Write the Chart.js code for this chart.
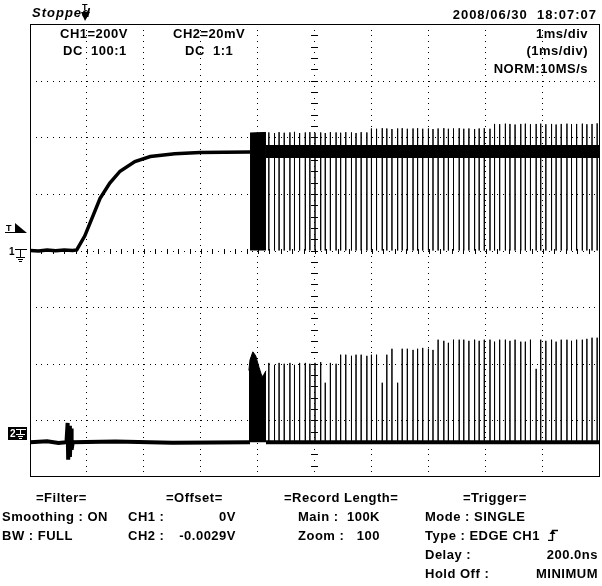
<!DOCTYPE html>
<html>
<head>
<meta charset="utf-8">
<script src="https://cdn.jsdelivr.net/npm/chart.js@4.4.1/dist/chart.umd.min.js"></script>
<style>
  body { margin: 0; background: #fff; }
  #wrap { position: relative; width: 602px; height: 586px; overflow: hidden; background: #fff; }
  #scope { position: absolute; left: 0; top: 0; }
  .t { position: absolute; font: bold 13px "Liberation Sans", Arial, sans-serif; letter-spacing: 0.5px; line-height: 13px; white-space: pre; color: #000; }
</style>
</head>
<body>
<div id="wrap">
  <canvas id="scope" width="602" height="586"></canvas>

  <div class="t" style="left:32px;top:6px;font-style:italic;letter-spacing:1px">Stopped</div>
  <div class="t" style="right:5px;top:8px;letter-spacing:1px">2008/06/30  18:07:07</div>

  <div class="t" style="left:60px;top:27px">CH1=200V</div>
  <div class="t" style="left:63px;top:44px">DC  100:1</div>
  <div class="t" style="left:173px;top:27px">CH2=20mV</div>
  <div class="t" style="left:185px;top:44px">DC  1:1</div>
  <div class="t" style="right:14px;top:27px">1ms/div</div>
  <div class="t" style="right:14px;top:44px">(1ms/div)</div>
  <div class="t" style="right:14px;top:62px">NORM:10MS/s</div>

  <div class="t" style="left:36px;top:491px">=Filter=</div>
  <div class="t" style="left:2px;top:510px">Smoothing : ON</div>
  <div class="t" style="left:2px;top:529px">BW : FULL</div>

  <div class="t" style="left:166px;top:491px">=Offset=</div>
  <div class="t" style="left:128px;top:510px">CH1 :</div>
  <div class="t" style="right:366px;top:510px">0V</div>
  <div class="t" style="left:128px;top:529px">CH2 :</div>
  <div class="t" style="right:366px;top:529px">-0.0029V</div>

  <div class="t" style="left:284px;top:491px">=Record Length=</div>
  <div class="t" style="left:298px;top:510px">Main :</div>
  <div class="t" style="right:222px;top:510px">100K</div>
  <div class="t" style="left:298px;top:529px">Zoom :</div>
  <div class="t" style="right:222px;top:529px">100</div>

  <div class="t" style="left:463px;top:491px">=Trigger=</div>
  <div class="t" style="left:425px;top:510px">Mode : SINGLE</div>
  <div class="t" style="left:425px;top:529px">Type : EDGE CH1  <svg width="11" height="12" viewBox="0 0 11 12" style="vertical-align:-1px"><path d="M0 11.5H4.5V1.5H10" fill="none" stroke="#000" stroke-width="1.4"/><path d="M1.5 5L4.5 1L7.5 5Z" fill="#000"/></svg></div>
  <div class="t" style="left:425px;top:548px">Delay :</div>
  <div class="t" style="right:4px;top:548px">200.0ns</div>
  <div class="t" style="left:425px;top:567px">Hold Off :</div>
  <div class="t" style="right:4px;top:567px">MINIMUM</div>
</div>

<script>
// screen: 10 div x 8 div, 1 ms/div
const timeMin = 0, timeMax = 10;
const ch1VoltsPerDiv = 200;
const ch2MilliVoltsPerDiv = 20;
const ch2Position = -3.22;           // div from centre
const triggerTime = 0.96;            // ms
const triggerLevel = 80;             // V on CH1

// CH1 (V) : slow charge up before switching starts
const ch1Times = [0, 0.15, 0.3, 0.45, 0.6, 0.75, 0.82, 0.96, 1.11, 1.23, 1.40, 1.58, 1.84, 2.11, 2.54, 2.98, 3.40, 3.86];
const ch1Volts = [0, -2, 2, -1, 2, 0, 2, 51, 125, 184, 238, 280, 314, 332, 342, 346, 347, 348];

// CH1 start-up burst and switching plateau
const ch1BurstTimes = [3.86, 4.14];
const ch1BurstVolts = [415, 417];
const ch1BandTimes = [4.14, 10];
const ch1BandVolts = [350, 350];

// switching pulses (shared time base)
const pulseTimes = [
  4.19, 4.29, 4.37, 4.46, 4.56, 4.64, 4.73, 4.83, 4.91, 5.00,
  5.10, 5.18, 5.27, 5.37, 5.45, 5.54, 5.64, 5.72, 5.81, 5.91,
  5.99, 6.08, 6.18, 6.26, 6.35, 6.45, 6.53, 6.62, 6.72, 6.80,
  6.89, 6.99, 7.07, 7.16, 7.26, 7.34, 7.43, 7.53, 7.61, 7.70,
  7.80, 7.88, 7.97, 8.07, 8.15, 8.24, 8.34, 8.42, 8.51, 8.61,
  8.69, 8.78, 8.88, 8.96, 9.05, 9.15, 9.23, 9.32, 9.42, 9.50,
  9.59, 9.69, 9.77, 9.86, 9.95
];
const ch1PulseTops = [
  417, 415, 418, 416, 417, 419, 415, 417, 418, 416, 417, 415, 418, 417, 416, 418, 417, 415, 418, 417,
  431, 430, 432, 431, 429, 431, 432, 430, 431, 432, 430, 431, 429, 431, 432, 430, 431, 432, 430, 431, 429, 431, 432, 430,
  447, 446, 448, 447, 445, 447, 448, 446, 447, 448, 446, 447, 445, 447, 448, 446, 447, 448, 446, 447, 449
];
const ch1PulseBottom = 0;

// CH2 (mV)
const ch2Level = -3.3;
const ch2Times = [0, 0.3, 0.5, 0.64, 0.66, 0.67, 0.69, 0.70, 0.72, 0.73, 0.75, 1.5, 2.5, 3.86];
const ch2Volts = [-3.3, -3.0, -3.6, -3.3, 3.5, -9.5, 2.5, -8.5, 1.5, -6.0, -3.3, -3.1, -3.5, -3.3];
const ch2BurstTimes = [3.84, 3.86, 3.91, 3.96, 4.02, 4.07, 4.10, 4.14];
const ch2BurstVolts = [22.0, 25.8, 28.6, 27.2, 23.0, 19.8, 20.5, 21.9];
const ch2BaseTimes = [4.14, 10];
const ch2BaseVolts = [-3.3, -3.3];
const ch2PulseTops = [
  24.7, 24.0, 24.7, 24.4, 24.7, 24.0, 24.7, 24.7, 24.4, 24.7, 25.0,
  17.7, 24.7, 24.4,
  27.6, 27.6, 27.2, 27.6, 27.6, 27.2, 27.6, 27.6,
  17.7, 27.6, 29.7, 17.7,
  29.7, 29.7, 29.3, 29.7, 30.0, 29.7, 29.3,
  32.9, 32.5, 31.8, 32.9, 32.9, 32.9, 32.5, 32.9, 32.5, 32.9, 32.9, 32.2, 32.9, 32.9, 32.5, 32.9, 32.2, 32.2, 32.9,
  22.6,
  32.9, 32.5, 32.9, 32.2, 32.9, 32.9, 32.5, 32.9, 32.9, 33.2, 33.6, 33.6
];

const pts = (xs, ys) => xs.map((x, i) => ({ x, y: ys[i] }));
const ch1Pulses = pulseTimes.flatMap((t, i) => [
  { x: t, y: ch1BandVolts[0] }, { x: t, y: ch1PulseTops[i] }, { x: t, y: ch1PulseBottom }, { x: t, y: ch1BandVolts[0] }
]);
const ch2Pulses = pulseTimes.flatMap((t, i) => [
  { x: t, y: ch2Level }, { x: t, y: ch2PulseTops[i] }, { x: t, y: ch2Level }
]);

const scopeGrid = {
  id: 'scopeGrid',
  beforeDatasetsDraw(chart) {
    const { ctx, chartArea: a, scales } = chart;
    const y1 = scales.y1, x = scales.x;
    ctx.save();
    ctx.fillStyle = '#000';
    const divW = x.getPixelForValue(1) - x.getPixelForValue(0);
    const divH = y1.getPixelForValue(0) - y1.getPixelForValue(ch1VoltsPerDiv);
    // vertical grid lines
    for (let i = 1; i < 10; i++) {
      const px = Math.round(x.getPixelForValue(timeMin + i)) - 1;
      for (let k = 1; k < 80; k++) {
        const py = Math.round(a.top + k * divH / 10);
        if (py >= a.bottom - 1) break;
        ctx.fillRect(px, py, 1, 1);
        if (i === 5 && k % 2 === 0) ctx.fillRect(px - 3, py, 7, 1);
      }
    }
    // horizontal grid lines
    for (let j = -3; j <= 3; j++) {
      const py = Math.round(y1.getPixelForValue(j * ch1VoltsPerDiv));
      for (let k = 1; k < 100; k++) {
        const px = Math.round(a.left + k * divW / 10);
        if (px >= a.right - 1) break;
        ctx.fillRect(px, py, 1, 1);
        if (j === 0 && k % 2 === 0) ctx.fillRect(px, py - 2, 1, 5);
      }
    }
    ctx.restore();
  },
  afterDraw(chart) {
    const { ctx, chartArea: a, scales } = chart;
    ctx.save();
    ctx.strokeStyle = '#000';
    ctx.fillStyle = '#000';
    ctx.lineWidth = 1;
    ctx.strokeRect(a.left + 0.5, a.top + 0.5, a.right - a.left - 1, a.bottom - a.top - 1);

    // trigger position (top)
    const tx = Math.round(scales.x.getPixelForValue(triggerTime));
    ctx.font = 'bold 9px "Liberation Sans"';
    ctx.fillText('T', tx - 3, 10);
    ctx.beginPath();
    ctx.moveTo(tx - 4, 12); ctx.lineTo(tx + 5, 12); ctx.lineTo(tx, 21); ctx.closePath();
    ctx.fill();

    // trigger level (left)
    const ty = Math.round(scales.y1.getPixelForValue(triggerLevel));
    ctx.fillText('T', 6, ty + 3);
    ctx.fillRect(5, ty + 4, 10, 1);
    ctx.beginPath();
    ctx.moveTo(15, ty - 5); ctx.lineTo(15, ty + 5); ctx.lineTo(27, ty + 5); ctx.closePath();
    ctx.fill();

    // CH1 ground
    const g1 = Math.round(scales.y1.getPixelForValue(0));
    ctx.font = 'bold 10px "Liberation Sans"';
    ctx.fillText('1', 9, g1 + 4);
    ctx.fillRect(15, g1 - 2, 12, 1);
    ctx.fillRect(20, g1 - 2, 1, 8);
    ctx.fillRect(16, g1 + 6, 9, 1);
    ctx.fillRect(18, g1 + 8, 5, 1);
    ctx.fillRect(19, g1 + 10, 3, 1);

    // CH2 ground
    const g2 = Math.round(scales.y2.getPixelForValue(0));
    ctx.fillRect(8, g2 - 6, 19, 13);
    ctx.fillStyle = '#fff';
    ctx.fillText('2', 10, g2 + 4);
    ctx.fillRect(16, g2 - 4, 10, 1);
    ctx.fillRect(20, g2 - 4, 1, 5);
    ctx.fillRect(16, g2 + 1, 9, 1);
    ctx.fillRect(18, g2 + 3, 5, 1);
    ctx.fillRect(19, g2 + 5, 3, 1);
    ctx.restore();
  }
};

const trace = (data, axis, width, extra) => Object.assign({
  data, yAxisID: axis, borderColor: '#000', backgroundColor: '#000',
  borderWidth: width, pointRadius: 0, tension: 0, fill: false
}, extra || {});

new Chart(document.getElementById('scope'), {
  type: 'line',
  data: {
    datasets: [
      trace(ch1Pulses, 'y1', 1),
      trace(pts(ch1Times, ch1Volts), 'y1', 3.5),
      trace(pts(ch1BurstTimes, ch1BurstVolts), 'y1', 1, { fill: 'origin' }),
      trace(pts(ch1BandTimes, ch1BandVolts), 'y1', 13, { borderCapStyle: 'butt' }),
      trace(ch2Pulses, 'y2', 1),
      trace(pts(ch2Times, ch2Volts), 'y2', 4),
      trace(pts(ch2BurstTimes, ch2BurstVolts), 'y2', 1, { fill: { value: ch2Level } }),
      trace(pts(ch2BaseTimes, ch2BaseVolts), 'y2', 4)
    ]
  },
  options: {
    responsive: false,
    animation: false,
    devicePixelRatio: 1,
    layout: { padding: { left: 30, right: 2, top: 24, bottom: 109 } },
    plugins: { legend: { display: false }, tooltip: { enabled: false } },
    scales: {
      x: { type: 'linear', min: timeMin, max: timeMax, display: false },
      y1: { type: 'linear', min: -4 * ch1VoltsPerDiv, max: 4 * ch1VoltsPerDiv, display: false },
      y2: { type: 'linear', min: (-4 - ch2Position) * ch2MilliVoltsPerDiv, max: (4 - ch2Position) * ch2MilliVoltsPerDiv, display: false }
    }
  },
  plugins: [scopeGrid]
});
</script>
</body>
</html>
